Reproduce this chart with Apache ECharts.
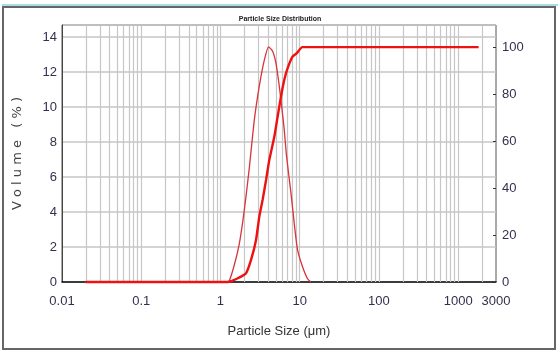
<!DOCTYPE html>
<html>
<head>
<meta charset="utf-8">
<script src="https://cdn.jsdelivr.net/npm/echarts@6/dist/echarts.min.js"></script>
<style>
  html, body { margin: 0; padding: 0; background: #fff; }
  #graph { width: 560px; height: 354px; }
</style>
</head>
<body>
<div id="graph"></div>
<script>
// 粒径 (um) 与体积 (%) —— 从原图读出
var sizeFreq = [0.02, 1.22, 1.30, 1.50, 1.73, 1.91, 2.10, 2.32, 2.68, 3.09, 3.58, 4.05, 4.55, 5.02, 5.52, 5.97, 6.38, 6.82, 7.75, 8.53, 9.38, 10.8, 12.5, 13.8];
var volume   = [0, 0, 0.1, 1.0, 2.2, 3.45, 4.9, 6.6, 9.3, 11.2, 12.7, 13.45, 13.2, 12.5, 11.2, 9.9, 8.7, 7.2, 5.1, 3.35, 1.85, 0.9, 0.2, 0];

// 累积分布 (%)
var sizeCum    = [0.02, 1.22, 1.40, 1.65, 1.82, 2.10, 2.43, 2.81, 3.09, 3.40, 3.76, 4.13, 4.78, 5.26, 5.80, 6.38, 7.02, 8.11, 9.12, 10.8, 1810];
var cumulative = [0, 0, 0.5, 1.6, 2.3, 3.7, 9.4, 17.9, 27.8, 34.9, 43.4, 51.9, 61.8, 70.3, 78.9, 86, 90.9, 95.9, 97.3, 100, 100];

// 对数网格线
var gridValues = [];
for (var k = -2; k <= 3; k++) {
    for (var d = 1; d <= 9; d++) {
        var v = d * Math.pow(10, k);
        if (v > 0.01 && v < 3000) gridValues.push(+v.toPrecision(3));
    }
}

var narrow = "'Liberation Sans', Arial, sans-serif";
var labelColor = '#33304f';

var freqData = sizeFreq.map(function (s, i) { return [s, volume[i]]; });
var cumData = sizeCum.map(function (s, i) { return [s, cumulative[i]]; });

var myChart = echarts.init(document.getElementById('graph'));

option = {
    animation: false,
    backgroundColor: '#fff',
    title: {
        text: 'Particle Size Distribution',
        left: 'center',
        top: 11,
        textStyle: { fontSize: 7, fontWeight: 'bold', color: '#222', fontFamily: narrow }
    },
    graphic: [
        { type: 'line', shape: { x1: 2, y1: 5, x2: 558, y2: 5 }, style: { stroke: '#a9dfe3', lineWidth: 2 } },
        { type: 'rect', shape: { x: 3, y: 7, width: 552, height: 342 }, style: { fill: 'none', stroke: '#666', lineWidth: 2 } }
    ],
    grid: {
        left: 62, right: 64, top: 25, bottom: 72,
        show: true, borderColor: '#555', borderWidth: 1
    },
    xAxis: {
        type: 'log',
        logBase: 10,
        min: 0.01,
        max: 3000,
        name: 'Particle Size (μm)',
        nameLocation: 'middle',
        nameGap: 43,
        nameTextStyle: { fontSize: 13, color: '#333', fontFamily: narrow },
        axisLine: { lineStyle: { color: '#111', width: 1.5 } },
        axisTick: { show: false },
        axisLabel: {
            fontSize: 13, color: labelColor, fontFamily: narrow, margin: 13,
            formatter: function (v) { return String(+v.toPrecision(3)); }
        },
        splitLine: { show: false }
    },
    yAxis: [{
        type: 'value',
        min: 0,
        max: 14.7,
        interval: 2,
        name: 'V o l u m e   ( % )',
        nameLocation: 'middle',
        nameGap: 38,
        nameTextStyle: { fontSize: 13, color: '#444', fontFamily: 'DejaVu Sans' },
        axisLine: { show: true, lineStyle: { color: '#444', width: 1 } },
        axisTick: { show: false },
        axisLabel: { fontSize: 13, color: labelColor, fontFamily: narrow, margin: 5, showMaxLabel: false },
        splitLine: { lineStyle: { color: '#c6c6c6', width: 1.5 } }
    }, {
        type: 'value',
        min: 0,
        max: 109.4,
        interval: 20,
        position: 'right',
        axisLine: { show: false },
        axisTick: { show: true, inside: true, length: 3, lineStyle: { color: '#333' } },
        axisLabel: { fontSize: 13, color: labelColor, fontFamily: narrow, margin: 6, showMaxLabel: false },
        splitLine: { show: false }
    }],
    series: [
        {
            // 竖直网格线
            type: 'line',
            data: [],
            silent: true,
            z: 1,
            markLine: {
                silent: true,
                z: 1,
                symbol: 'none',
                label: { show: false },
                lineStyle: { color: '#c6c6c6', type: 'solid', width: 1.2 },
                data: gridValues.map(function (v) { return { xAxis: v }; })
            }
        },
        {
            name: 'Volume',
            type: 'line',
            yAxisIndex: 0,
            data: freqData,
            showSymbol: false,
            smooth: 0.2,
            clip: false,
            zlevel: 1,
            z: 2,
            lineStyle: { color: '#d9333b', width: 1.3 }
        },
        {
            name: 'Cumulative',
            type: 'line',
            yAxisIndex: 1,
            data: cumData,
            showSymbol: false,
            smooth: 0.15,
            clip: false,
            zlevel: 1,
            z: 3,
            lineStyle: { color: '#ee1111', width: 2.4 }
        }
    ]
};

myChart.setOption(option);
</script>
</body>
</html>
